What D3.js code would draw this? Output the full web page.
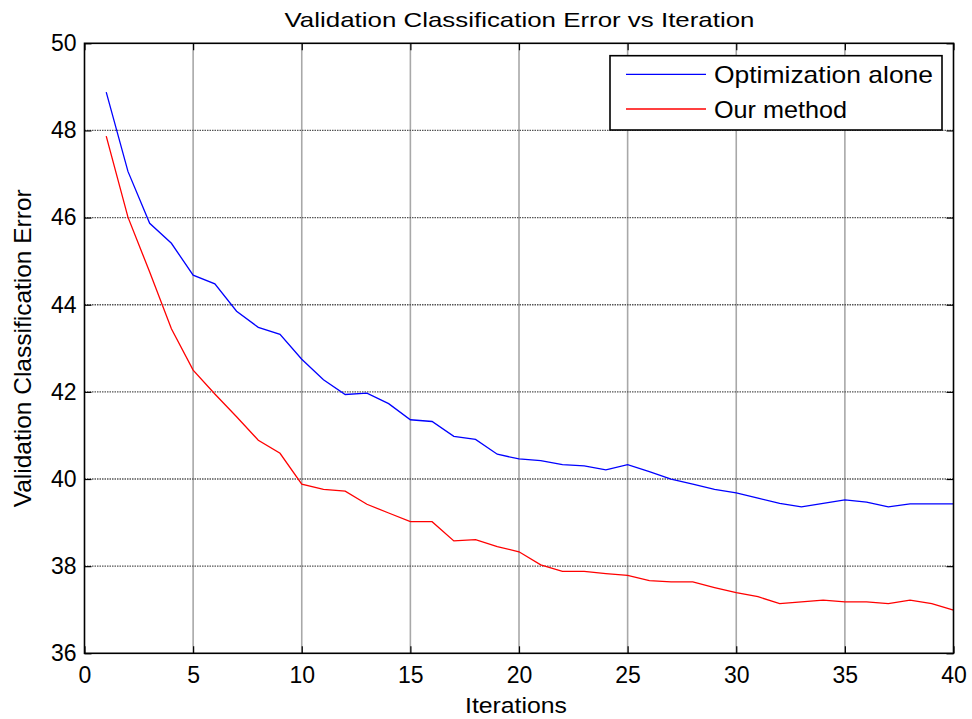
<!DOCTYPE html>
<html>
<head>
<meta charset="utf-8">
<script src="https://cdn.jsdelivr.net/npm/d3@7"></script>
<style>
  html, body { margin: 0; padding: 0; background: #fff; }
  svg { display: block; font-family: "Liberation Sans", Arial, sans-serif; }
</style>
</head>
<body>
<svg id="chart" width="972" height="719"></svg>
<script>
// Validation error per training iteration, two methods
const iterations = [1,2,3,4,5,6,7,8,9,10,11,12,13,14,15,16,17,18,19,20,
                    21,22,23,24,25,26,27,28,29,30,31,32,33,34,35,36,37,38,39,40];
const optimizationAlone = [48.88,47.06,45.87,45.41,44.68,44.48,43.85,43.48,43.32,42.75,
                           42.28,41.94,41.97,41.73,41.36,41.32,40.98,40.91,40.57,40.46,
                           40.42,40.33,40.30,40.21,40.33,40.17,40.00,39.88,39.76,39.68,
                           39.56,39.44,39.36,39.44,39.52,39.47,39.36,39.43,39.43,39.43];
const ourMethod = [47.87,46.01,44.75,43.45,42.50,41.95,41.43,40.89,40.59,39.88,
                   39.76,39.72,39.42,39.22,39.02,39.02,38.58,38.61,38.45,38.33,
                   38.03,37.88,37.88,37.83,37.79,37.67,37.64,37.64,37.51,37.39,
                   37.30,37.14,37.18,37.22,37.18,37.18,37.14,37.22,37.14,36.99];
const xTicks = [0,5,10,15,20,25,30,35,40];
const yTicks = [36,38,40,42,44,46,48,50];
const seriesNames = ["Optimization alone", "Our method"];
const seriesColors = ["#0000ff", "#ff0000"];

const svg = d3.select("#chart");
const plotL = 84.5, plotR = 953.5, plotT = 43.3, plotB = 653.3;

const x = d3.scaleLinear().domain([0, 40]).range([plotL, plotR]);
const y = d3.scaleLinear().domain([36, 50]).range([plotB, plotT]);

// grid lines
const grid = svg.append("g");
grid.selectAll("line.v").data(xTicks.slice(1, -1)).join("line")
  .attr("x1", d => x(d)).attr("x2", d => x(d))
  .attr("y1", plotT).attr("y2", plotB)
  .attr("stroke", "#a8a8a8").attr("stroke-width", 1.6);
grid.selectAll("line.h").data(yTicks.slice(1, -1)).join("line")
  .attr("x1", plotL).attr("x2", plotR)
  .attr("y1", d => y(d)).attr("y2", d => y(d))
  .attr("stroke", "#555").attr("stroke-width", 1.3)
  .attr("stroke-dasharray", "1.5,1");

// series lines
const line = d3.line().x((d, i) => x(iterations[i])).y(d => y(d));
[optimizationAlone, ourMethod].forEach((vals, k) => {
  svg.append("path").datum(vals)
    .attr("d", line)
    .attr("fill", "none")
    .attr("stroke", seriesColors[k])
    .attr("stroke-width", 1.3);
});

// axes with inward ticks on all four sides
const tickLen = 7;
function styleAxis(g) {
  g.select(".domain").remove();
  g.selectAll(".tick line").attr("stroke", "#000").attr("stroke-width", 1.2);
}
const fontTick = 23;
svg.append("g").attr("transform", `translate(0,${plotB})`)
  .call(d3.axisBottom(x).tickValues(xTicks).tickSize(-tickLen).tickPadding(13).tickFormat(d3.format("d")))
  .call(styleAxis)
  .call(g => g.selectAll(".tick text").attr("font-size", fontTick).attr("fill", "#000")
      .attr("font-family", "Liberation Sans, Arial, sans-serif"));
svg.append("g").attr("transform", `translate(${plotL},0)`)
  .call(d3.axisLeft(y).tickValues(yTicks).tickSize(-tickLen).tickPadding(8).tickFormat(d3.format("d")))
  .call(styleAxis)
  .call(g => g.selectAll(".tick text").attr("font-size", fontTick).attr("fill", "#000")
      .attr("font-family", "Liberation Sans, Arial, sans-serif"));
svg.append("g").attr("transform", `translate(0,${plotT})`)
  .call(d3.axisTop(x).tickValues(xTicks).tickSize(-tickLen).tickFormat(""))
  .call(styleAxis);
svg.append("g").attr("transform", `translate(${plotR},0)`)
  .call(d3.axisRight(y).tickValues(yTicks).tickSize(-tickLen).tickFormat(""))
  .call(styleAxis);

// axes box
svg.append("rect")
  .attr("x", plotL).attr("y", plotT)
  .attr("width", plotR - plotL).attr("height", plotB - plotT)
  .attr("fill", "none").attr("stroke", "#000").attr("stroke-width", 1.6);

// title and axis labels
svg.append("text")
  .attr("x", (plotL + plotR) / 2 + 0.5).attr("y", 26.5)
  .attr("text-anchor", "middle").attr("font-size", 21)
  .attr("textLength", 470).attr("lengthAdjust", "spacingAndGlyphs")
  .text("Validation Classification Error vs Iteration");
svg.append("text")
  .attr("x", (plotL + plotR) / 2 - 3).attr("y", 712.5)
  .attr("text-anchor", "middle").attr("font-size", 22)
  .attr("textLength", 102).attr("lengthAdjust", "spacingAndGlyphs")
  .text("Iterations");
svg.append("text")
  .attr("transform", `translate(31,${(plotT + plotB) / 2}) rotate(-90)`)
  .attr("text-anchor", "middle").attr("font-size", 24)
  .attr("textLength", 318).attr("lengthAdjust", "spacingAndGlyphs")
  .text("Validation Classification Error");

// legend
const legend = svg.append("g");
legend.append("rect")
  .attr("x", 610).attr("y", 55.7).attr("width", 332).attr("height", 74.3)
  .attr("fill", "#fff").attr("stroke", "#000").attr("stroke-width", 1.6);
const legendRows = [74.3, 109];
const legendLen = [219, 133];
seriesNames.forEach((name, k) => {
  legend.append("line")
    .attr("x1", 626).attr("x2", 706)
    .attr("y1", legendRows[k]).attr("y2", legendRows[k])
    .attr("stroke", seriesColors[k]).attr("stroke-width", 1.3);
  legend.append("text")
    .attr("x", 714).attr("y", legendRows[k] + 8.5)
    .attr("font-size", 24)
    .attr("textLength", legendLen[k]).attr("lengthAdjust", "spacingAndGlyphs")
    .text(name);
});
</script>
</body>
</html>
